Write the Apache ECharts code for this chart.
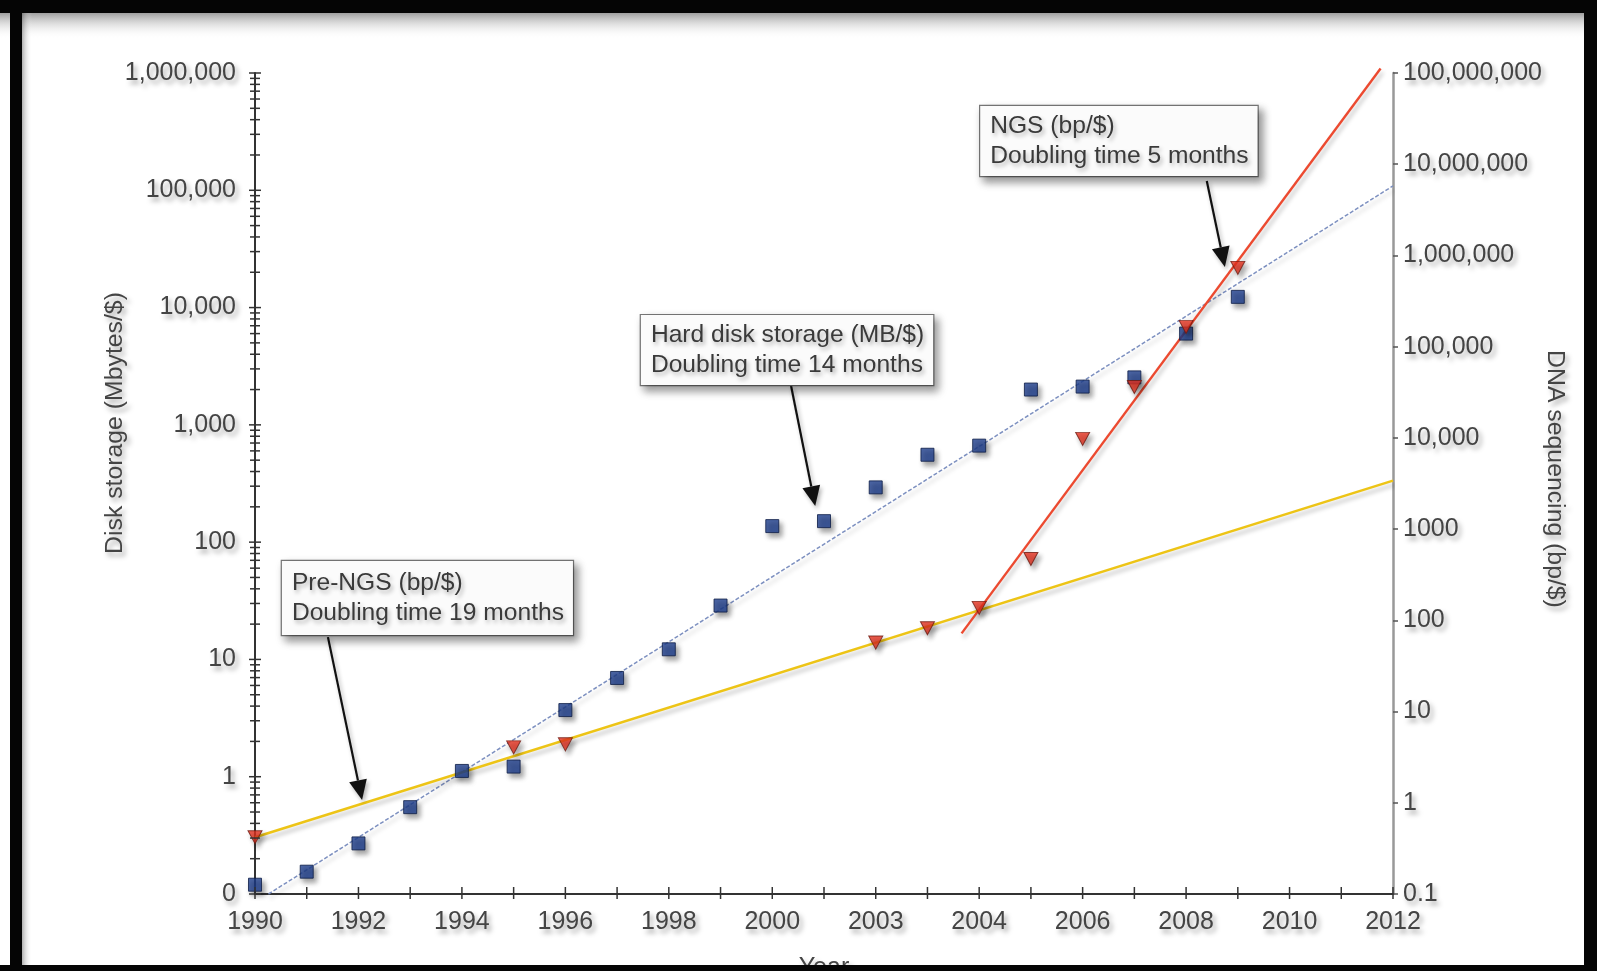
<!DOCTYPE html>
<html>
<head>
<meta charset="utf-8">
<title>Disk storage vs DNA sequencing cost trends</title>
<script src="https://cdn.jsdelivr.net/npm/echarts@6/dist/echarts.min.js"></script>
<style>
  html, body { margin: 0; padding: 0; background: #ffffff; }
  #chart { width: 1597px; height: 971px; }
</style>
</head>
<body>
<div id="chart"></div>
<script>
// ---- data ----
const diskYears = [1990, 1991, 1992, 1993, 1994, 1995, 1996, 1997, 1998, 1999,
                   2000, 2001, 2002, 2003, 2004, 2005, 2006, 2007, 2008, 2009];
const diskMBperDollar = [0.12, 0.155, 0.27, 0.55, 1.12, 1.22, 3.7, 6.95, 12.2, 28.8,
                         137, 151, 293, 556, 665, 2000, 2120, 2540, 6000, 12340];

const seqYears = [1990, 1995, 1996, 2002, 2003, 2004, 2005, 2006, 2007, 2008, 2009];
const seqBpPerDollar = [0.42, 4.05, 4.37, 57, 82, 137, 470, 9750, 36100, 164800, 731000];

// fitted trend lines: [year, value] end points
const diskTrend = [[1990.26, 0.1], [2012, 109000]];
const preNgsTrend = [[1990, 0.42], [2012, 3400]];
const ngsTrend = [[2003.66, 72], [2011.76, 1.12e8]];

// axis tick labels
const xTickLabels = ['1990', '1992', '1994', '1996', '1998', '2000',
                     '2003', '2004', '2006', '2008', '2010', '2012'];
const leftTickLabels = ['0', '1', '10', '100', '1,000', '10,000', '100,000', '1,000,000'];
const rightTickLabels = ['0.1', '1', '10', '100', '1000', '10,000', '100,000',
                         '1,000,000', '10,000,000', '100,000,000'];

// callout boxes with arrows (anchors in left-axis data coordinates)
const notes = [
  { text: 'Hard disk storage (MB/$)\nDoubling time 14 months',
    box: [1997.46, 8630], tail: [2000.36, 2188], tip: [2000.83, 203], pad: 5 },
  { text: 'NGS (bp/$)\nDoubling time 5 months',
    box: [2004.02, 522600], tail: [2008.40, 120000], tip: [2008.75, 22180], pad: 5 },
  { text: 'Pre-NGS (bp/$)\nDoubling time 19 months',
    box: [1990.52, 69], tail: [1991.41, 15.5], tip: [1992.07, 0.632], pad: 7 }
];

// ---- helpers ----
const FONT = 'Liberation Sans, Arial, Helvetica, sans-serif';
const LABEL_SIZE = 25;
const textShadow = {
  textShadowColor: 'rgba(0,0,0,0.35)',
  textShadowBlur: 5,
  textShadowOffsetX: 3,
  textShadowOffsetY: 4
};
const decadeIndex = (v, base) => Math.round(Math.log10(v)) - base;

// log tick values for the left axis: 1..9 x 10^k
const leftTickValues = [];
for (let k = -1; k <= 6; k++) {
  for (let m = 1; m <= 9; m++) {
    if (k === 6 && m > 1) break;
    leftTickValues.push([1990, m * Math.pow(10, k), m === 1 ? 1 : 0]);
  }
}
const yearTicks = [];
for (let y = 1990; y <= 2012; y++) yearTicks.push([y, 0.1]);

const chart = echarts.init(document.getElementById('chart'), null, { renderer: 'canvas' });

const option = {
  backgroundColor: '#ffffff',
  animation: false,
  textStyle: { fontFamily: FONT },
  grid: { left: 255, right: 204, top: 73, bottom: 77, containLabel: false, outerBoundsMode: 'none' },
  xAxis: {
    type: 'value',
    min: 1990, max: 2012, interval: 2,
    name: 'Year', nameLocation: 'middle', nameGap: 62,
    nameTextStyle: Object.assign({ fontSize: LABEL_SIZE, color: '#444', fontFamily: FONT }, textShadow),
    axisLine: { show: true, lineStyle: { color: '#333', width: 2 } },
    axisTick: { show: false },
    splitLine: { show: false },
    axisLabel: Object.assign({
      fontSize: LABEL_SIZE, color: '#444', margin: 16, fontFamily: FONT,
      formatter: v => xTickLabels[Math.round((v - 1990) / 2)] || ''
    }, textShadow)
  },
  yAxis: [
    {
      type: 'log', logBase: 10, min: 0.1, max: 1e6, interval: 1,
      position: 'left',
      axisLine: { show: true, lineStyle: { color: '#333', width: 2 } },
      axisTick: { show: false },
      splitLine: { show: false },
      axisLabel: Object.assign({
        fontSize: LABEL_SIZE, color: '#444', margin: 19, fontFamily: FONT,
        formatter: v => leftTickLabels[decadeIndex(v, -1)] || ''
      }, textShadow)
    },
    {
      type: 'log', logBase: 10, min: 0.1, max: 1e8, interval: 1,
      position: 'right',
      axisLine: { show: true, onZero: false, lineStyle: { color: '#999', width: 2.5 } },
      axisTick: { show: true, inside: false, length: 5, lineStyle: { color: '#555', width: 1.5 } },
      splitLine: { show: false },
      axisLabel: Object.assign({
        fontSize: LABEL_SIZE, color: '#444', margin: 10, fontFamily: FONT,
        formatter: v => rightTickLabels[decadeIndex(v, -1)] || ''
      }, textShadow)
    }
  ],
  series: [
    {
      name: 'Hard disk trend', type: 'line', yAxisIndex: 0, z: 2,
      data: diskTrend, symbol: 'none', clip: false,
      lineStyle: { color: '#7d90c0', width: 1.5, type: [4, 2],
                   shadowColor: 'rgba(0,0,0,0.25)', shadowBlur: 4, shadowOffsetX: 2, shadowOffsetY: 4 }
    },
    {
      name: 'Pre-NGS trend', type: 'line', yAxisIndex: 1, z: 2,
      data: preNgsTrend, symbol: 'none', clip: false,
      lineStyle: { color: '#edc416', width: 2.6,
                   shadowColor: 'rgba(0,0,0,0.25)', shadowBlur: 4, shadowOffsetX: 2, shadowOffsetY: 4 }
    },
    {
      name: 'NGS trend', type: 'line', yAxisIndex: 1, z: 2,
      data: ngsTrend, symbol: 'none', clip: false,
      lineStyle: { color: '#ec4a30', width: 2.4,
                   shadowColor: 'rgba(0,0,0,0.25)', shadowBlur: 4, shadowOffsetX: 2, shadowOffsetY: 4 }
    },
    {
      name: 'Hard disk storage (MB/$)', type: 'scatter', yAxisIndex: 0, z: 4,
      data: diskYears.map((y, i) => [y, diskMBperDollar[i]]),
      symbol: 'rect', symbolSize: 13, clip: false,
      itemStyle: { color: '#1e3f8e', borderColor: '#0c1d46', borderWidth: 1,
                   shadowColor: 'rgba(0,0,0,0.45)', shadowBlur: 5, shadowOffsetX: 3, shadowOffsetY: 4 }
    },
    {
      name: 'DNA sequencing (bp/$)', type: 'scatter', yAxisIndex: 1, z: 5,
      data: seqYears.map((y, i) => [y, seqBpPerDollar[i]]),
      symbol: 'triangle', symbolRotate: 180, symbolSize: [14, 13], clip: false,
      itemStyle: { color: '#e8321f', borderColor: '#6e1a10', borderWidth: 1,
                   shadowColor: 'rgba(0,0,0,0.4)', shadowBlur: 5, shadowOffsetX: 3, shadowOffsetY: 4 }
    },
    {
      // left axis ticks, crossing the axis line
      name: 'left ticks', type: 'custom', yAxisIndex: 0, z: 6, silent: true, clip: false,
      data: leftTickValues,
      renderItem: (params, api) => {
        const p = api.coord([api.value(0), api.value(1)]);
        const half = api.value(2) ? 6 : 5;
        return { type: 'line', shape: { x1: p[0] - half, y1: p[1], x2: p[0] + half, y2: p[1] },
                 style: { stroke: '#333', lineWidth: 1.5 } };
      }
    },
    {
      // yearly ticks on the x axis
      name: 'year ticks', type: 'custom', yAxisIndex: 0, z: 6, silent: true, clip: false,
      data: yearTicks,
      renderItem: (params, api) => {
        const p = api.coord([api.value(0), api.value(1)]);
        return { type: 'line', shape: { x1: p[0], y1: p[1] - 7, x2: p[0], y2: p[1] + 5 },
                 style: { stroke: '#333', lineWidth: 1.5 } };
      }
    }
  ]
};

chart.setOption(option);

// ---- callouts, axis titles and frame ----
function buildGraphics() {
  const els = [];
  const toPx = v => chart.convertToPixel({ xAxisIndex: 0, yAxisIndex: 0 }, v);

  notes.forEach(n => {
    const b = toPx(n.box), t = toPx(n.tail), h = toPx(n.tip);
    const dx = h[0] - t[0], dy = h[1] - t[1];
    const len = Math.sqrt(dx * dx + dy * dy);
    const ux = dx / len, uy = dy / len;
    const headL = 20, headW = 9;
    const bx = h[0] - ux * headL, by = h[1] - uy * headL;
    els.push({
      type: 'line', z: 20,
      shape: { x1: t[0], y1: t[1], x2: bx, y2: by },
      style: { stroke: '#111', lineWidth: 2.2,
               shadowColor: 'rgba(0,0,0,0.3)', shadowBlur: 4, shadowOffsetX: 2, shadowOffsetY: 3 }
    });
    els.push({
      type: 'polygon', z: 20,
      shape: { points: [h, [bx - uy * headW, by + ux * headW], [bx + uy * headW, by - ux * headW]] },
      style: { fill: '#111', shadowColor: 'rgba(0,0,0,0.3)', shadowBlur: 4, shadowOffsetX: 2, shadowOffsetY: 3 }
    });
    els.push({
      type: 'text', z: 21, x: b[0], y: b[1],
      style: Object.assign({
        text: n.text, font: '24.6px ' + FONT, fill: '#3a3a3a', lineHeight: 30,
        backgroundColor: '#fbfbfb', borderColor: '#777', borderWidth: 1.2,
        padding: [n.pad, 9, n.pad, 10],
        shadowColor: 'rgba(0,0,0,0.4)', shadowBlur: 8, shadowOffsetX: 4, shadowOffsetY: 5
      }, {
        textShadowColor: 'rgba(0,0,0,0.3)', textShadowBlur: 4, textShadowOffsetX: 2, textShadowOffsetY: 3
      })
    });
  });

  // axis titles
  els.push({
    type: 'text', z: 10, x: 115, y: 423, rotation: Math.PI / 2,
    style: Object.assign({ text: 'Disk storage (Mbytes/$)', font: '24.8px ' + FONT, fill: '#444',
                           align: 'center', verticalAlign: 'middle' }, textShadow)
  });
  els.push({
    type: 'text', z: 10, x: 1555, y: 479, rotation: -Math.PI / 2,
    style: Object.assign({ text: 'DNA sequencing (bp/$)', font: '24.8px ' + FONT, fill: '#444',
                           align: 'center', verticalAlign: 'middle' }, textShadow)
  });

  // frame with a soft inner shade along the top and left edges
  els.push({
    type: 'rect', z: 30, shape: { x: 0, y: 13, width: 1597, height: 26 },
    style: { fill: new echarts.graphic.LinearGradient(0, 0, 0, 1, [
      { offset: 0, color: 'rgba(80,80,80,0.55)' }, { offset: 1, color: 'rgba(255,255,255,0)' }]) }
  });
  els.push({
    type: 'rect', z: 30, shape: { x: 22, y: 0, width: 10, height: 971 },
    style: { fill: new echarts.graphic.LinearGradient(0, 0, 1, 0, [
      { offset: 0, color: 'rgba(80,80,80,0.45)' }, { offset: 1, color: 'rgba(255,255,255,0)' }]) }
  });
  const black = '#050505';
  els.push({ type: 'rect', z: 31, shape: { x: 0, y: 0, width: 1597, height: 13 }, style: { fill: black } });
  els.push({ type: 'rect', z: 31, shape: { x: 10, y: 0, width: 12, height: 971 }, style: { fill: black } });
  els.push({ type: 'rect', z: 31, shape: { x: 1584, y: 0, width: 13, height: 971 }, style: { fill: black } });
  els.push({ type: 'rect', z: 31, shape: { x: 0, y: 965, width: 1597, height: 6 }, style: { fill: black } });
  return els;
}

chart.setOption({ graphic: { elements: buildGraphics() } });
</script>
</body>
</html>
